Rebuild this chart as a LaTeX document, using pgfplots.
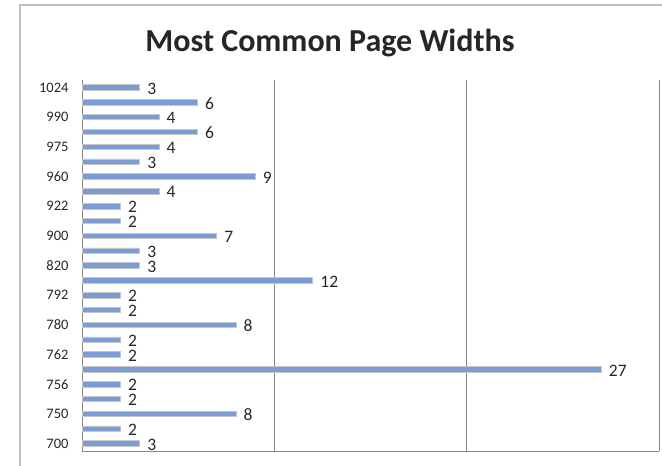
\documentclass[border=0pt]{standalone}
\usepackage{pgfplots}
\pgfplotsset{compat=1.18}
\usepackage{fontspec}
\setmainfont{Carlito}
\definecolor{barblue}{RGB}{125,156,213}
\definecolor{framegray}{RGB}{190,190,190}
\definecolor{gridgray}{RGB}{134,134,134}
\begin{document}
\begin{tikzpicture}[x=1pt,y=1pt]
\useasboundingbox (0,0) rectangle (662,466);
\draw[framegray, line width=1.5pt] (20,-10) -- (20,461) -- (680,461);
\node[font=\bfseries\fontsize{32}{38}\selectfont, text=black!85] at (330,423) {Most Common Page Widths};
\begin{axis}[
  at={(82pt,15pt)}, anchor=south west,
  scale only axis, width=577pt, height=371pt,
  /pgf/number format/assume math mode=true,
  xbar, bar width=5.5pt,
  xmin=0, xmax=30, ymin=-0.5, ymax=24.5,
  axis x line*=bottom, axis y line*=left,
  axis line style={gridgray, line width=0.8pt},
  xtick={0,10,20,30}, xticklabels={},
  xmajorgrids, major grid style={gridgray, line width=0.8pt},
  ytick={0,2,...,24},
  yticklabels={700,750,756,762,780,792,820,900,922,960,975,990,1024},
  major tick length=0pt,
  yticklabel style={font=\fontsize{14.5}{16}\selectfont, text=black!85, xshift=-10pt},
  nodes near coords,
  nodes near coords align={horizontal},
  every node near coord/.append style={font=\fontsize{17.5}{20}\selectfont, text=black!85, xshift=4pt, yshift=-1pt},
  clip=false,
]
\addplot[fill=barblue, draw=black!22, line width=0.7pt] coordinates {
(3,0) (2,1) (8,2) (2,3) (2,4) (27,5) (2,6) (2,7) (8,8) (2,9) (2,10) (12,11) (3,12)
(3,13) (7,14) (2,15) (2,16) (4,17) (9,18) (3,19) (4,20) (6,21) (4,22) (6,23) (3,24)
};
\end{axis}
\end{tikzpicture}
\end{document}
